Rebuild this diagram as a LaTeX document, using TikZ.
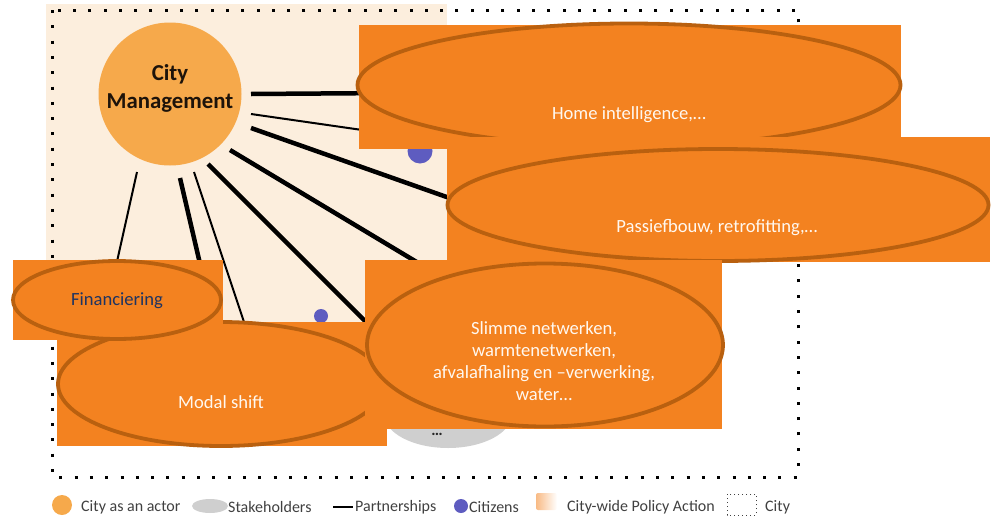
\documentclass[tikz,border=0pt]{standalone}
\usepackage{fontspec}
\setmainfont{Carlito}
\usetikzlibrary{shapes.geometric}

\definecolor{boxorange}{HTML}{F38220}
\definecolor{ringbrown}{HTML}{B9600F}
\definecolor{actororange}{HTML}{F6A94B}
\definecolor{policybeige}{HTML}{FCEEDD}
\definecolor{citizenblue}{HTML}{5E5CC0}
\definecolor{labelnavy}{HTML}{1F3461}
\definecolor{legendgrey}{HTML}{404040}
\definecolor{stakegrey}{HTML}{CFCFCF}
\definecolor{boxwhite}{HTML}{FFF8F0}

\tikzset{
  cityframe/.style={line width=3pt, dash pattern=on 3pt off 12.3pt},
  partnerthick/.style={line width=4.5pt},
  partnerthin/.style={line width=2pt},
  actionbox/.style={rectangle, fill=boxorange, inner sep=0pt},
  actionring/.style={ellipse, draw=ringbrown, line width=3.8pt, inner sep=0pt},
  actiontext/.style={text=boxwhite, font=\fontsize{18.6}{22}\selectfont, align=center, inner sep=0pt},
  legendtext/.style={text=legendgrey, font=\fontsize{16}{18}\selectfont, anchor=west, inner sep=0pt},
}

\begin{document}
\begin{tikzpicture}[x=1pt,y=-1pt]
\useasboundingbox (0,0) rectangle (991,517);

% city-wide policy area and city border
\fill[policybeige] (46,4) rectangle (447,322);
\draw[cityframe] (52,10) rectangle (798,477);

% partnership start and end points
\coordinate (s1) at (251,94);  \coordinate (e1) at (390,93);
\coordinate (s2) at (251,114); \coordinate (e2) at (390,134);
\coordinate (s3) at (251,128); \coordinate (e3) at (458,201);
\coordinate (s4) at (230,150); \coordinate (e4) at (420,264);
\coordinate (s5) at (208,164); \coordinate (e5) at (374,330);
\coordinate (s6) at (194,172); \coordinate (e6) at (246,328);
\coordinate (s7) at (180,178); \coordinate (e7) at (201,268);
\coordinate (s8) at (137,172); \coordinate (e8) at (116,266);

\draw[partnerthick] (s1) -- (e1);
\draw[partnerthin]  (s2) -- (e2);
\draw[partnerthick] (s3) -- (e3);
\draw[partnerthick] (s4) -- (e4);
\draw[partnerthick] (s5) -- (e5);
\draw[partnerthin]  (s6) -- (e6);
\draw[partnerthick] (s7) -- (e7);
\draw[partnerthin]  (s8) -- (e8);

% the city as an actor
\node[circle, fill=actororange, minimum size=143pt, inner sep=0pt] (citymgmt) at (170,94) {};
\node[text=black!85!brown, align=center, inner sep=0pt,
      font=\fontsize{22.8}{28}\selectfont\bfseries] (citylabel) at (170,88)
      {City\\Management};

% citizens
\node[circle, fill=citizenblue, minimum size=14pt, inner sep=0pt] (citizen2) at (321,316) {};
\node[circle, fill=citizenblue, minimum size=25pt, inner sep=0pt] (citizen1) at (420,151) {};

% stakeholders
\node[ellipse, fill=stakegrey, minimum width=128pt, minimum height=68pt, inner sep=0pt] (stake) at (448,414) {};
\node[anchor=base, text=black!85, font=\fontsize{16}{18}\selectfont\bfseries, inner sep=0pt] (stakedots) at (437,435) {…};

% policy actions
\node[actionbox, minimum width=542pt, minimum height=124pt] (homebox) at (630,87) {};
\node[actionring, minimum width=543pt, minimum height=123pt] (homering) at (629,85) {};
\node[actiontext] (hometext) at (629,115) {Home intelligence,…};

\node[actionbox, minimum width=543pt, minimum height=125pt] (passbox) at (718.5,199.5) {};
\node[actionring, minimum width=541pt, minimum height=112pt] (passring) at (718,205) {};
\node[actiontext] (passtext) at (717,228) {Passiefbouw, retrofitting,…};

\node[actionbox, minimum width=330pt, minimum height=124pt] (modalbox) at (222,384) {};
\node[actionring, minimum width=326pt, minimum height=124pt] (modalring) at (221,384) {};
\node[actiontext] (modaltext) at (221,402) {Modal shift};

\node[actionbox, minimum width=210pt, minimum height=80pt] (finbox) at (118,300) {};
\node[actionring, minimum width=208pt, minimum height=78pt] (finring) at (117,300) {};
\node[actiontext, text=labelnavy] (fintext) at (117,301) {Financiering};

\node[actionbox, minimum width=357pt, minimum height=169pt] (smartbox) at (543.5,344.5) {};
\node[actionring, minimum width=356pt, minimum height=163pt] (smartring) at (545,345) {};
\node[actiontext] (smarttext) at (544,361)
  {Slimme netwerken,\\warmtenetwerken,\\afvalafhaling en –verwerking,\\water…};

% legend
\node[circle, fill=actororange, minimum size=20pt, inner sep=0pt] (legactor) at (62,505) {};
\node[legendtext] (legactortext) at (81,507) {City as an actor};
\node[ellipse, fill=stakegrey, minimum width=36pt, minimum height=14pt, inner sep=0pt] (legstake) at (210,506) {};
\node[legendtext] (legstaketext) at (228,507) {Stakeholders};
\coordinate (legline1) at (333,507);
\coordinate (legline2) at (353,507);
\draw[partnerthin] (legline1) -- (legline2);
\node[legendtext] (legpartner) at (355,507) {Partnerships};
\node[circle, fill=citizenblue, minimum size=14pt, inner sep=0pt] (legcitizen) at (461,506) {};
\node[legendtext] (legcitizentext) at (469,507) {Citizens};
\shade[left color=boxorange!55, right color=white, rounded corners=2pt] (536,493) rectangle (557,510);
\node[legendtext] (legpolicy) at (567,507) {City-wide Policy Action};
\draw[legendgrey, line width=1pt, dash pattern=on 1pt off 3pt] (727,494) rectangle (756,515);
\node[legendtext] (legcity) at (765,507) {City};
\end{tikzpicture}
\end{document}
